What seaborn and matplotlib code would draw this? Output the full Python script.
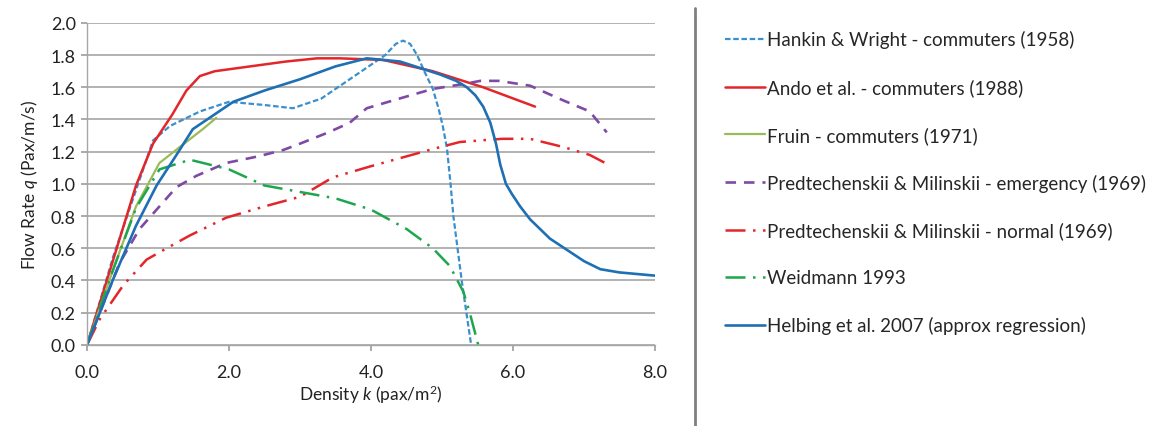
import numpy as np
import pandas as pd
import seaborn as sns
import matplotlib.pyplot as plt
from matplotlib.lines import Line2D

# values (density k, flow q)
hankin_k = [0, 0.37, 0.93, 1.17, 1.59, 2.0, 2.5, 2.9, 3.3, 3.7, 4.0, 4.2, 4.35, 4.45, 4.55, 4.65, 4.75,
            4.87, 4.95, 5.01, 5.07, 5.12, 5.16, 5.28, 5.41]
hankin_q = [0, 0.55, 1.27, 1.36, 1.45, 1.51, 1.49, 1.47, 1.53, 1.65, 1.74, 1.80, 1.87, 1.89, 1.87, 1.80, 1.70,
            1.59, 1.47, 1.36, 1.22, 1.0, 0.80, 0.39, 0.0]

ando_k = [0, 0.37, 0.69, 0.93, 1.2, 1.4, 1.59, 1.8, 2.3, 2.8, 3.24, 3.56, 4.17, 4.87, 5.58, 6.31]
ando_q = [0, 0.53, 0.99, 1.25, 1.43, 1.58, 1.67, 1.70, 1.73, 1.76, 1.78, 1.78, 1.77, 1.70, 1.60, 1.48]

fruin_k = [0, 0.37, 0.69, 1.02, 1.31, 1.63, 1.82]
fruin_q = [0, 0.47, 0.86, 1.13, 1.23, 1.34, 1.41]

pm_emerg_k = [0, 0.46, 0.74, 0.98, 1.26, 1.54, 1.96, 2.4, 2.76, 3.0, 3.4, 3.7, 3.94, 4.4, 4.87, 5.3, 5.54,
              5.8, 6.24, 6.7, 7.08, 7.32]
pm_emerg_q = [0, 0.51, 0.72, 0.84, 0.98, 1.05, 1.13, 1.17, 1.21, 1.25, 1.32, 1.38, 1.47, 1.53, 1.59, 1.62, 1.64,
              1.64, 1.61, 1.52, 1.45, 1.32]

pm_normal_k = [0, 0.18, 0.51, 0.84, 1.12, 1.45, 1.96, 2.5, 3.0, 3.46, 4.0, 4.41, 4.9, 5.25, 5.54, 5.85, 6.24,
               6.7, 7.08, 7.34]
pm_normal_q = [0, 0.16, 0.37, 0.53, 0.60, 0.68, 0.79, 0.86, 0.92, 1.04, 1.11, 1.16, 1.22, 1.26, 1.27, 1.28, 1.28,
               1.23, 1.18, 1.12]

weid_k = [0, 0.37, 0.69, 1.02, 1.45, 2.0, 2.5, 3.0, 3.5, 4.0, 4.5, 4.87, 5.11, 5.3, 5.39, 5.51]
weid_q = [0, 0.47, 0.85, 1.09, 1.15, 1.09, 0.99, 0.95, 0.91, 0.84, 0.72, 0.60, 0.49, 0.33, 0.20, 0.0]

helb_k = [0, 0.37, 0.69, 0.98, 1.26, 1.49, 2.06, 2.5, 3.0, 3.5, 3.94, 4.41, 4.97, 5.2, 5.35, 5.47, 5.58, 5.68,
          5.76, 5.82, 5.9, 5.98, 6.1, 6.24, 6.52, 6.76, 7.0, 7.23, 7.5, 7.75, 8.0]
helb_q = [0, 0.41, 0.74, 0.99, 1.18, 1.34, 1.51, 1.58, 1.65, 1.73, 1.78, 1.76, 1.68, 1.64, 1.60, 1.55, 1.48, 1.38,
          1.25, 1.12, 1.00, 0.94, 0.86, 0.78, 0.66, 0.59, 0.52, 0.47, 0.45, 0.44, 0.43]

labels = ["Hankin & Wright - commuters (1958)",
          "Ando et al. - commuters (1988)",
          "Fruin - commuters (1971)",
          "Predtechenskii & Milinskii - emergency (1969)",
          "Predtechenskii & Milinskii - normal (1969)",
          "Weidmann 1993",
          "Helbing et al. 2007 (approx regression)"]

series = [(hankin_k, hankin_q), (ando_k, ando_q), (fruin_k, fruin_q), (pm_emerg_k, pm_emerg_q),
          (pm_normal_k, pm_normal_q), (weid_k, weid_q), (helb_k, helb_q)]

colors = ["#3a8fcf", "#e3262a", "#9bbb59", "#7d4aa6", "#e3262a", "#1ea64f", "#1f6fb4"]
styles = [(0, (2.5, 1.2)), "-", "-", (0, (4, 3)), (0, (8, 3, 1, 3, 1, 3)), (0, (8, 3, 1, 3)), "-"]
widths = [1.6, 1.8, 1.6, 1.9, 1.8, 1.8, 1.9]

sns.set_theme(style="white")
plt.rcParams["font.family"] = ["Lato", "DejaVu Sans"]
plt.rcParams["mathtext.fontset"] = "custom"
plt.rcParams["mathtext.it"] = "Lato:italic"
plt.rcParams["mathtext.rm"] = "Lato"

fig = plt.figure(figsize=(11.51, 4.27), dpi=100)
ax = fig.add_axes([0.0756, 0.19, 0.4935, 0.754])

for (k, q), lab, c, ls, lw in zip(series, labels, colors, styles, widths):
    df = pd.DataFrame({"k": k, "q": q})
    sns.lineplot(data=df, x="k", y="q", ax=ax, color=c, linestyle=ls, linewidth=lw,
                 sort=False, estimator=None, label=lab)

ax.set_xlim(0, 8)
ax.set_ylim(0, 2.0)
ax.set_xticks(np.arange(0, 8.1, 2.0))
ax.set_yticks(np.arange(0, 2.01, 0.2))
ax.set_xticklabels([f"{v:.1f}" for v in np.arange(0, 8.1, 2.0)])
ax.set_yticklabels([f"{v:.1f}" for v in np.arange(0, 2.01, 0.2)])
ax.tick_params(axis="both", labelsize=13, length=4, color="#a0a0a0", direction="out",
               bottom=True, left=True, colors="#a0a0a0", labelcolor="#222222")
ax.tick_params(axis="x", pad=10)
ax.tick_params(axis="y", pad=4)
ax.grid(axis="y", color="#a6a6a6", linewidth=1.2)
ax.set_axisbelow(True)
for s in ["top", "right"]:
    ax.spines[s].set_visible(False)
for s in ["left", "bottom"]:
    ax.spines[s].set_color("#a6a6a6")
    ax.spines[s].set_linewidth(1.0)

ax.set_xlabel(r"Density $k$ (pax/m$^2$)", fontsize=12.5, color="#222222", labelpad=2)
ax.set_ylabel(r"Flow Rate $q$ (Pax/m/s)", fontsize=12.5, color="#222222", labelpad=8)

handles, labs = ax.get_legend_handles_labels()
ax.get_legend().remove()
fig.legend(handles, labs, loc="upper left", bbox_to_anchor=(0.615, 0.966), frameon=False,
           fontsize=13.5, handlelength=2.15, handletextpad=0.1, labelspacing=1.59)

# vertical separator between chart and legend
fig.add_artist(Line2D([0.604, 0.604], [0.0, 0.98], color="#808080", linewidth=2))

fig.savefig("out.png", dpi=100)
